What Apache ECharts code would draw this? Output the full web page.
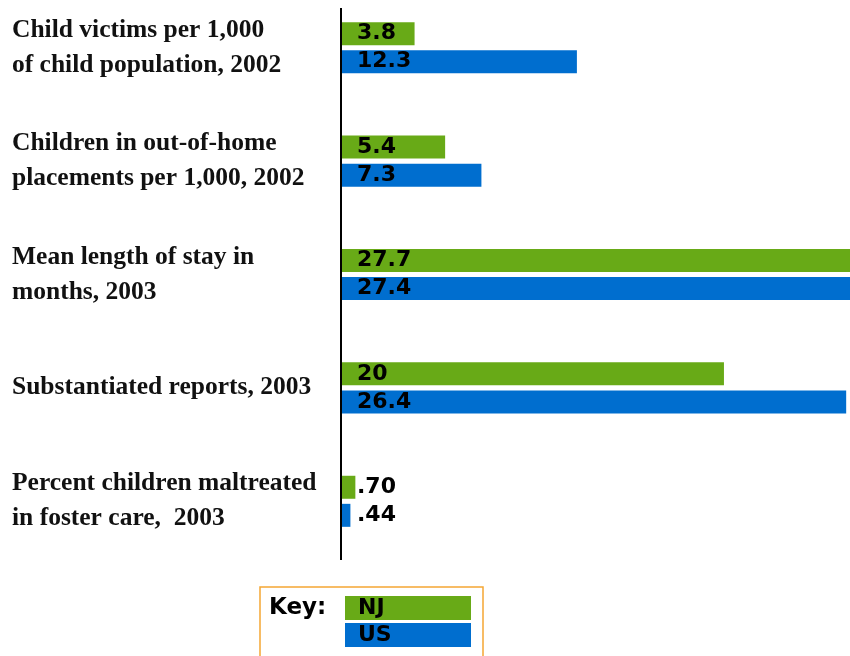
<!DOCTYPE html>
<html><head><meta charset="utf-8">
<script src="https://cdn.jsdelivr.net/npm/echarts@6/dist/echarts.min.js"></script>
<style>html,body{margin:0;padding:0;background:#fff}#c{width:850px;height:656px}</style>
</head><body><div id="c"></div>
<script>
const categories = [
  "Child victims per 1,000\nof child population, 2002",
  "Children in out-of-home\nplacements per 1,000, 2002",
  "Mean length of stay in\nmonths, 2003",
  "Substantiated reports, 2003",
  "Percent children maltreated\nin foster care,  2003"
];
const njValues = [3.8, 5.4, 27.7, 20, 0.70];
const usValues = [12.3, 7.3, 27.4, 26.4, 0.44];
const njLabels = ["3.8", "5.4", "27.7", "20", ".70"];
const usLabels = ["12.3", "7.3", "27.4", "26.4", ".44"];
const seriesNames = ["NJ", "US"];

const GREEN = "#68AA17", BLUE = "#006ECF";
const chart = echarts.init(document.getElementById('c'));
const labelStyle = (arr) => ({
  show: true, position: 'insideLeft', distance: 15,
  formatter: p => arr[p.dataIndex],
  color: '#000', fontFamily: 'DejaVu Sans', fontWeight: 'bold', fontSize: 22
});
chart.setOption({
  animation: false,
  grid: { left: 342, right: 0, top: -9, height: 567, containLabel: false, outerBoundsMode: 'none' },
  xAxis: { type: 'value', min: 0, max: 26.6, show: false },
  yAxis: {
    type: 'category', data: categories, inverse: true,
    axisLine: { show: false }, axisTick: { show: false },
    axisLabel: { align: 'left', margin: 330, color: '#111',
      fontFamily: 'Liberation Serif', fontWeight: 'bold', fontSize: 25.5, lineHeight: 35 }
  },
  legend: {
    left: 345, top: 596, orient: 'vertical', itemGap: 3, padding: 0,
    itemWidth: 126, itemHeight: 24, icon: 'rect',
    data: seriesNames, selectedMode: false,
    textStyle: { fontFamily: 'DejaVu Sans', fontWeight: 'bold', fontSize: 22, color: '#000',
      padding: [0, 0, 0, -118] }
  },
  graphic: [
    { type: 'line', shape: { x1: 341, y1: 8, x2: 341, y2: 560 }, style: { stroke: '#000', lineWidth: 2 } },
    { type: 'rect', shape: { x: 260, y: 587, width: 223, height: 80 }, style: { fill: 'none', stroke: '#F5A733', lineWidth: 1.5 }, z: -1 },
    { type: 'text', left: 269, top: 597, style: { text: 'Key:', fontFamily: 'DejaVu Sans', fontWeight: 'bold', fontSize: 23, fill: '#000' } }
  ],
  series: [
    { name: seriesNames[0], type: 'bar', data: njValues, barWidth: 23, barGap: '22%',
      itemStyle: { color: GREEN }, label: labelStyle(njLabels) },
    { name: seriesNames[1], type: 'bar', data: usValues, barWidth: 23, barGap: '22%',
      itemStyle: { color: BLUE }, label: labelStyle(usLabels) }
  ]
});
</script></body></html>
